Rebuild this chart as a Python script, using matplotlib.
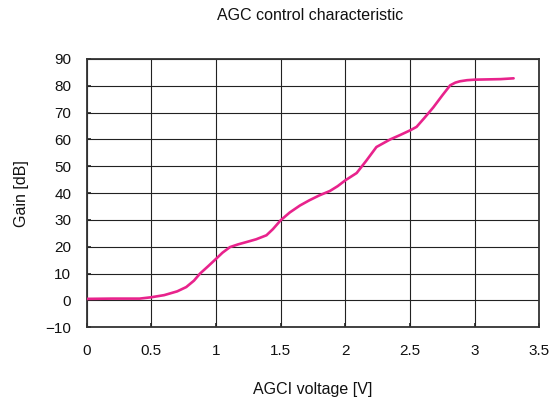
import matplotlib
matplotlib.use("Agg")
import matplotlib.pyplot as plt

plt.rcParams['font.family'] = ['Liberation Sans', 'DejaVu Sans']

voltage = [0.0, 0.2, 0.41, 0.5, 0.6, 0.7, 0.77, 0.83, 0.876, 0.94, 1.0, 1.05, 1.108, 1.17, 1.237, 1.31,
           1.39, 1.44, 1.5, 1.57, 1.649, 1.72, 1.80, 1.88, 1.94, 2.0, 2.087, 2.16, 2.24, 2.3, 2.345,
           2.42, 2.5, 2.55, 2.61, 2.68, 2.75, 2.81, 2.85, 2.886, 2.94, 3.0, 3.1, 3.2, 3.30]
gain = [0.6, 0.7, 0.7, 1.2, 2.0, 3.4, 5.0, 7.4, 10.0, 12.8, 15.5, 17.8, 19.9, 20.9, 21.8, 22.8,
        24.3, 26.6, 29.9, 32.8, 35.4, 37.3, 39.2, 40.8, 42.6, 44.8, 47.5, 52.0, 57.2, 58.8, 60.0,
        61.6, 63.4, 64.7, 68.0, 72.0, 76.5, 80.2, 81.2, 81.7, 82.1, 82.3, 82.4, 82.5, 82.8]

x_ticks = [0, 0.5, 1, 1.5, 2, 2.5, 3, 3.5]
x_tick_labels = ['0', '0.5', '1', '1.5', '2', '2.5', '3', '3.5']
y_ticks = [-10, 0, 10, 20, 30, 40, 50, 60, 70, 80, 90]
y_tick_labels = ['\u221210', '0', '10', '20', '30', '40', '50', '60', '70', '80', '90']

fig = plt.figure(figsize=(5.54, 4.03), dpi=100)
ax = fig.add_axes([0.1563, 0.1878, 0.8175, 0.6658])

ax.plot(voltage, gain, color='#e8238c', linewidth=1.9, solid_capstyle='round', zorder=3)

ax.set_xlim(0, 3.5)
ax.set_ylim(-10, 90)
ax.set_xticks(x_ticks)
ax.set_xticklabels(x_tick_labels)
ax.set_yticks(y_ticks)
ax.set_yticklabels(y_tick_labels)
ax.grid(True, color='#222222', linewidth=0.8)
ax.tick_params(direction='in', length=3, width=1.2, colors='#222222', labelsize=11)
ax.tick_params(axis='x', pad=12)
ax.tick_params(axis='y', pad=11)
for lbl in ax.get_xticklabels() + ax.get_yticklabels():
    lbl.set_color('#111111')
for s in ax.spines.values():
    s.set_color('#333333')
    s.set_linewidth(1.3)

ax.set_xlabel('AGCI voltage [V]', fontsize=11.5, labelpad=17, color='#111111')
ax.set_ylabel('Gain [dB]', fontsize=11.5, labelpad=12, color='#111111')
fig.text(0.5 * (0.1563 + 0.9738) - 0.005, 0.962, 'AGC control characteristic', ha='center', va='center',
         fontsize=11.5, color='#111111')

fig.savefig('out.png', dpi=100, facecolor='white')
